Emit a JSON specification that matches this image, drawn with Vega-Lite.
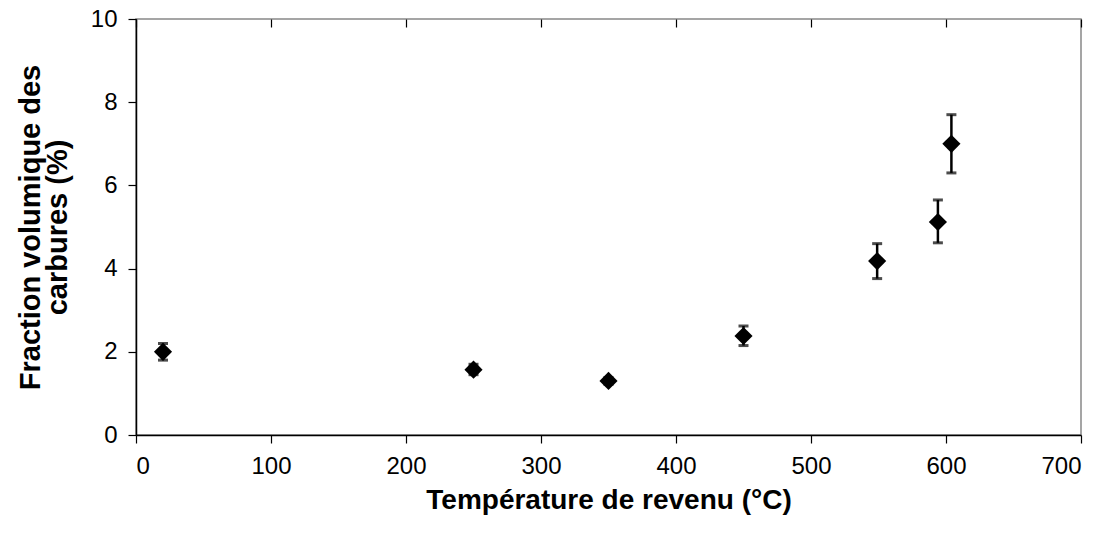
{
  "$schema": "https://vega.github.io/schema/vega-lite/v6.json",
  "autosize": "none",
  "width": 945,
  "height": 416,
  "padding": {"left": 136, "top": 19, "right": 34, "bottom": 101},
  "background": "white",
  "config": {
    "view": {"stroke": "#888888", "strokeWidth": 1.5},
    "font": "Liberation Sans",
    "axis": {"domainColor": "black", "tickColor": "black", "labelColor": "black", "titleColor": "black", "labelFont": "Liberation Sans", "titleFont": "Liberation Sans", "domainWidth": 1.5, "tickWidth": 1.2}
  },
  "data": {
    "values": [
      {"t": 20, "f": 2.0, "lo": 1.8, "hi": 2.2},
      {"t": 250, "f": 1.57, "lo": 1.45, "hi": 1.7},
      {"t": 350, "f": 1.3, "lo": 1.22, "hi": 1.38},
      {"t": 450, "f": 2.38, "lo": 2.15, "hi": 2.62},
      {"t": 549, "f": 4.18, "lo": 3.76, "hi": 4.6},
      {"t": 594, "f": 5.12, "lo": 4.62, "hi": 5.65},
      {"t": 604, "f": 7.0, "lo": 6.3, "hi": 7.7}
    ]
  },
  "layer": [
    {
      "mark": {"type": "rule", "color": "black", "strokeWidth": 2.5},
      "encoding": {
        "x": {"field": "t", "type": "quantitative", "scale": {"domain": [0, 700], "nice": false},
          "axis": {"orient": "bottom", "values": [0, 100, 200, 300, 400, 500, 600, 700], "tickSize": 8, "labelPadding": 11, "labelFontSize": 24, "grid": true, "gridColor": "black", "gridWidth": 1.2, "gridDash": [8, 2000], "title": "Température de revenu (°C)", "titleFontSize": 28, "titleFontWeight": "bold", "titlePadding": 8}},
        "y": {"field": "lo", "type": "quantitative", "scale": {"domain": [0, 10], "nice": false},
          "axis": {"values": [0, 2, 4, 6, 8, 10], "tickSize": 8, "labelPadding": 11, "labelFontSize": 24, "grid": false, "title": ["Fraction volumique des", "carbures (%)"], "titleFontSize": 29, "titleFontWeight": "bold", "titleLineHeight": 27, "titlePadding": 18}},
        "y2": {"field": "hi"}
      }
    },
    {
      "mark": {"type": "tick", "orient": "horizontal", "color": "black", "thickness": 3, "size": 10},
      "encoding": {
        "x": {"field": "t", "type": "quantitative"},
        "y": {"field": "lo", "type": "quantitative"}
      }
    },
    {
      "mark": {"type": "tick", "orient": "horizontal", "color": "black", "thickness": 3, "size": 10},
      "encoding": {
        "x": {"field": "t", "type": "quantitative"},
        "y": {"field": "hi", "type": "quantitative"}
      }
    },
    {
      "mark": {"type": "point", "shape": "diamond", "filled": true, "color": "black", "opacity": 1, "size": 330},
      "encoding": {
        "x": {"field": "t", "type": "quantitative"},
        "y": {"field": "f", "type": "quantitative"}
      }
    }
  ]
}
